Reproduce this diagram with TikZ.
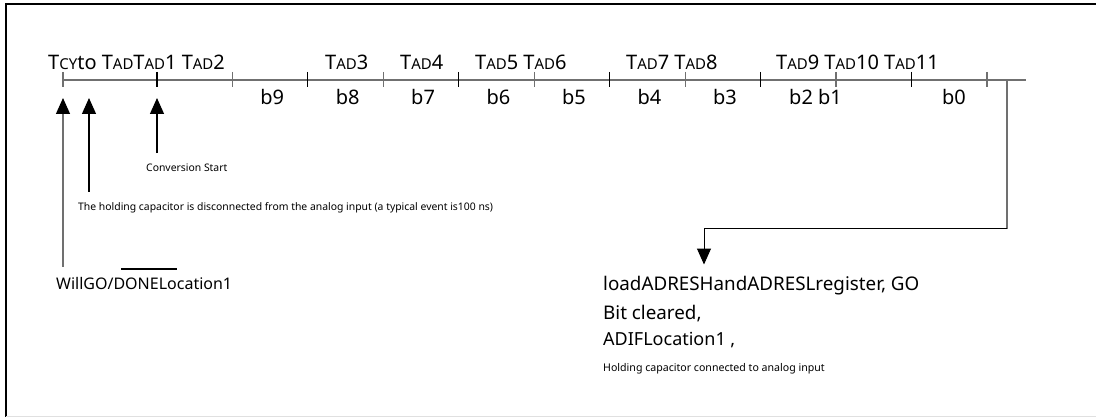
\documentclass[tikz,border=0pt]{standalone}
\usepackage{fontspec}
\setmainfont{Noto Sans}
\usetikzlibrary{arrows.meta,calc}

\definecolor{axisgrey}{RGB}{112,112,112}
\newcommand{\smc}[1]{{\fontsize{15}{15}\selectfont #1}}
\newcommand{\tadlbl}{T\smc{AD}}

\tikzset{
  toplbl/.style={anchor=base west, inner sep=0pt, font=\fontsize{20}{24}\selectfont},
  bitlbl/.style={anchor=base, inner sep=0pt, font=\fontsize{20}{24}\selectfont},
  note/.style={anchor=base west, inner sep=0pt, font=\fontsize{10.4}{12}\selectfont},
  reslbl/.style={anchor=base west, inner sep=0pt, font=\fontsize{18.8}{22}\selectfont},
  tip/.style={-{Triangle[width=14pt,length=16pt,color=black]}, line width=1.2pt},
  axis/.style={axisgrey, line width=1.2pt}
}

\begin{document}
\begin{tikzpicture}[x=1pt,y=-1pt]
\useasboundingbox (0,0) rectangle (1096,417);
\draw[line width=2pt] (1096,4) -- (6,4) -- (6,417);
\draw[black!12] (6,416) -- (1096,416);

\coordinate (t0) at (63,80);
\foreach \i in {1,...,12}
  \coordinate (t\i) at ({157+75.45*(\i-1)},80);
\coordinate (tcy) at (89,80);
\coordinate (tend) at (1007,80);
\coordinate (axend) at (1026,80);
\coordinate (bend) at (704,229);

\draw[axis] (t0) -- (axend);
\foreach \i in {0,2,...,12}
  \draw[axis] ([yshift=8pt]t\i) -- ([yshift=-7pt]t\i);
\foreach \i in {1,3,...,11}
  \draw[line width=1.1pt] ([yshift=8pt]t\i) -- ([yshift=-7pt]t\i);

\node[toplbl] (tl1) at (48,70) {T\smc{CY}to \tadlbl\tadlbl1 \tadlbl2};
\node[toplbl] (tl2) at (325,70) {\tadlbl3};
\node[toplbl] (tl3) at (400,70) {\tadlbl4};
\node[toplbl] (tl4) at (475,70) {\tadlbl5 \tadlbl6};
\node[toplbl] (tl5) at (626,70) {\tadlbl7 \tadlbl8};
\node[toplbl] (tl6) at (776,70) {\tadlbl9 \tadlbl10 \tadlbl11};

\foreach \b [count=\k from 2, evaluate=\k as \n using int(\k+1)] in {b9,b8,b7,b6,b5,b4,b3}
  \node[bitlbl] (\b) at ($ (t\k)!0.5!(t\n) + (2,25) $) {\b};
\node[toplbl] (b21) at (789,105) {b2 b1};
\node[bitlbl] (b0) at (954,105) {b0};

\node[note] (cstart) at (146,172) {Conversion Start};
\node[note] (hold) at (78,211) {The holding capacitor is disconnected from the analog input (a typical event is100 ns)};
\node[anchor=base west, inner sep=0pt, font=\fontsize{16}{19}\selectfont] (willgo) at (56,289) {WillGO/DONELocation1};
\draw[line width=2pt] ([xshift=65pt,yshift=8pt]willgo.north west) -- ++(56,0);

\draw[tip, axisgrey, shorten <=10pt, shorten >=18pt] (t0 |- willgo.north) -- (t0);
\draw[tip, shorten <=11pt, shorten >=18pt] (tcy |- hold.north) -- (tcy);
\draw[tip, shorten <=11pt, shorten >=18pt] (t1 |- cstart.north) -- (t1);

\node[reslbl] (load) at (603,290) {loadADRESHandADRESLregister, GO};
\node[reslbl] (bitclr) at (603,319) {Bit cleared,};
\node[reslbl, font=\fontsize{18}{21}\selectfont] (adif) at (603,345) {ADIFLocation1 ,};
\node[note, font=\fontsize{10.6}{12}\selectfont] (holdcon) at (603,371) {Holding capacitor connected to analog input};

\draw[axis] (tend) -- (tend |- bend);
\draw[tip, line width=1pt, shorten >=11pt] (tend |- bend) -- (bend) -- (bend |- load.north);
\end{tikzpicture}
\end{document}
